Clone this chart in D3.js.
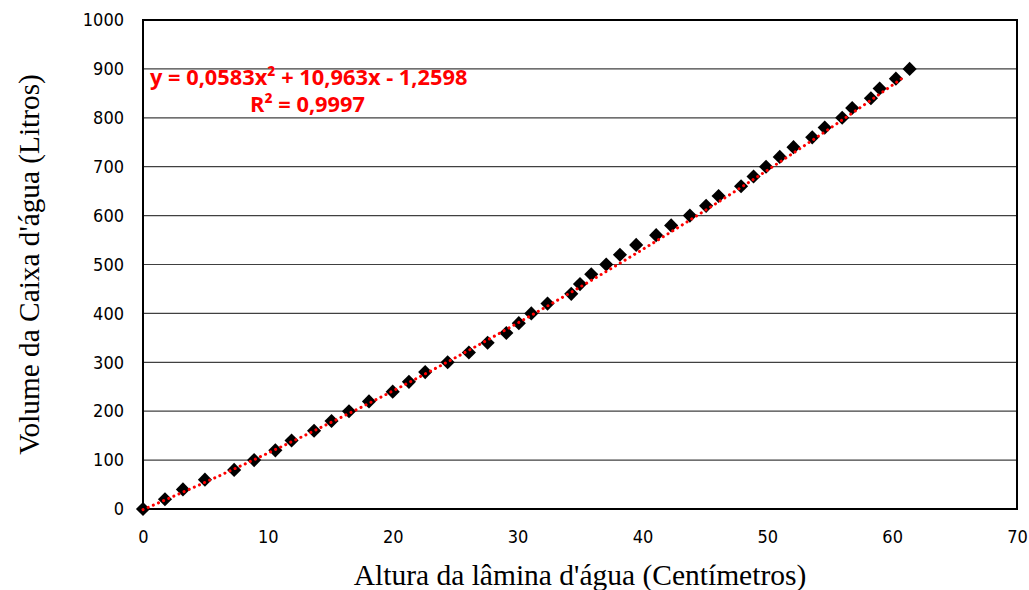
<!DOCTYPE html>
<html>
<head>
<meta charset="utf-8">
<script src="https://cdn.jsdelivr.net/npm/d3@7"></script>
<style>
  body { margin: 0; background: #fff; }
  .tick text { font-family: "DejaVu Sans Condensed", "Liberation Sans Narrow", Roboto, sans-serif; font-stretch: condensed; font-size: 18px; fill: #000; }
</style>
</head>
<body>
<div id="chart"></div>
<script>
// altura da lâmina (cm)
var altura = [0, 1.76, 3.2, 4.96, 7.3, 8.9, 10.6, 11.9, 13.7, 15.1, 16.5, 18.1, 20.0, 21.3, 22.6,
  24.4, 26.1, 27.6, 29.1, 30.1, 31.1, 32.4, 34.3, 35.0, 35.9, 37.1, 38.2, 39.5, 41.1, 42.3,
  43.8, 45.1, 46.1, 47.9, 48.9, 49.9, 51.0, 52.1, 53.6, 54.6, 56.0, 56.8, 58.3, 59.0, 60.3, 61.4];
// volume (litros)
var volume = [0, 20, 40, 60, 80, 100, 120, 140, 160, 180, 200, 220, 240, 260, 280,
  300, 320, 340, 360, 380, 400, 420, 440, 460, 480, 500, 520, 540, 560, 580,
  600, 620, 640, 660, 680, 700, 720, 740, 760, 780, 800, 820, 840, 860, 880, 900];
var xTicks = [0, 10, 20, 30, 40, 50, 60, 70];
var yTicks = [0, 100, 200, 300, 400, 500, 600, 700, 800, 900, 1000];
// tendência polinomial (ordem 2) mostrada no gráfico
var coef = [0.0583, 10.963, -1.2598];
var eqText = "y = 0,0583x² + 10,963x - 1,2598";
var r2Text = "R² = 0,9997";

const width = 1029, height = 590;
const margin = {top: 20, right: 12, bottom: 81, left: 143};

const svg = d3.select('#chart').append('svg')
  .attr('width', width)
  .attr('height', height);

const x = d3.scaleLinear().domain([0, 70]).range([margin.left, width - margin.right]);
const y = d3.scaleLinear().domain([0, 1000]).range([height - margin.bottom, margin.top]);

// grid
svg.append('g')
  .selectAll('line')
  .data(yTicks)
  .enter().append('line')
    .attr('x1', x(0)).attr('x2', x(70))
    .attr('y1', d => y(d)).attr('y2', d => y(d))
    .style('stroke', '#404040')
    .style('stroke-width', 1.2);

// axes (sem marcas)
const xAxis = svg.append('g')
  .attr('transform', 'translate(0,' + y(0) + ')')
  .call(d3.axisBottom(x).tickValues(xTicks).tickSize(0).tickPadding(21));
const yAxis = svg.append('g')
  .attr('transform', 'translate(' + x(0) + ',0)')
  .call(d3.axisLeft(y).tickValues(yTicks).tickFormat(d3.format('d')).tickSize(0).tickPadding(19));
xAxis.select('.domain').remove();
yAxis.select('.domain').remove();

// borda da área
svg.append('rect')
  .attr('x', x(0)).attr('y', y(1000))
  .attr('width', x(70) - x(0)).attr('height', y(0) - y(1000))
  .style('fill', 'none')
  .style('stroke', '#000')
  .style('stroke-width', 2);

// pontos
const data = altura.map((a, i) => ({a: a, v: volume[i]}));
svg.append('g')
  .selectAll('path')
  .data(data)
  .enter().append('path')
    .attr('d', d3.symbol().type(d3.symbolSquare).size(100))
    .attr('transform', d => 'translate(' + x(d.a) + ',' + y(d.v) + ') rotate(45)')
    .style('fill', '#000');

// linha de tendência
const xs = d3.range(0, 61.4 + 0.001, 0.5);
const trend = d3.line()
  .x(d => x(d))
  .y(d => y(coef[0] * d * d + coef[1] * d + coef[2]));
svg.append('path')
  .datum(xs)
  .attr('d', trend)
  .style('fill', 'none')
  .style('stroke', '#ff0000')
  .style('stroke-width', 3)
  .style('stroke-linecap', 'round')
  .style('stroke-dasharray', '0.1,5.5');

// equação
const eqFont = '"Open Sans", sans-serif';
svg.append('text')
  .attr('x', 150).attr('y', 85)
  .style('font-family', eqFont)
  .style('font-weight', 'bold')
  .style('font-size', '21.8px')
  .style('fill', '#ff0000')
  .text(eqText);
svg.append('text')
  .attr('x', 250).attr('y', 112)
  .style('font-family', eqFont)
  .style('font-weight', 'bold')
  .style('font-size', '21.8px')
  .style('fill', '#ff0000')
  .text(r2Text);

// títulos
svg.append('text')
  .attr('x', (x(0) + x(70)) / 2).attr('y', 585)
  .attr('text-anchor', 'middle')
  .style('font-family', '"Liberation Serif", "Times New Roman", serif')
  .style('font-size', '29.5px')
  .text("Altura da lâmina d'água (Centímetros)");
svg.append('text')
  .attr('transform', 'translate(39,' + ((y(0) + y(1000)) / 2) + ') rotate(-90)')
  .attr('text-anchor', 'middle')
  .style('font-family', '"Liberation Serif", "Times New Roman", serif')
  .style('font-size', '29.3px')
  .text("Volume da Caixa d'água (Litros)");
</script>
</body>
</html>
